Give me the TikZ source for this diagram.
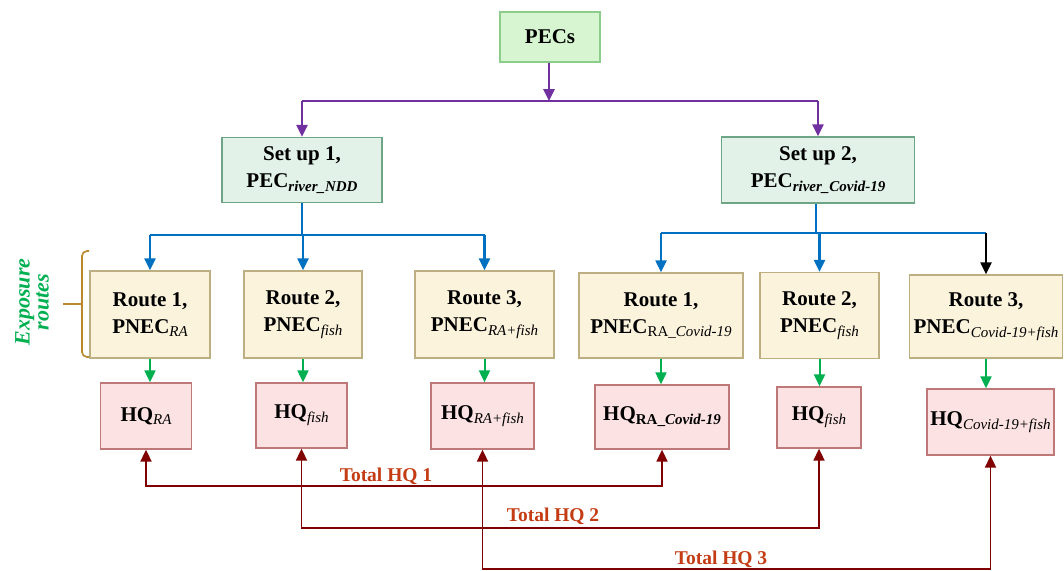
\documentclass[tikz,border=0pt]{standalone}
\usepackage{fontspec}
\setmainfont{Liberation Serif}
\usetikzlibrary{arrows.meta,calc}
\definecolor{pecfill}{RGB}{214,245,208}
\definecolor{pecdraw}{RGB}{140,205,140}
\definecolor{setfill}{RGB}{226,242,232}
\definecolor{setdraw}{RGB}{110,165,135}
\definecolor{routefill}{RGB}{251,243,220}
\definecolor{routedraw}{RGB}{190,175,130}
\definecolor{hqfill}{RGB}{252,226,226}
\definecolor{hqdraw}{RGB}{190,120,120}
\definecolor{cpurple}{RGB}{112,48,160}
\definecolor{cblue}{RGB}{0,112,192}
\definecolor{cgreen}{RGB}{0,176,80}
\definecolor{cdred}{RGB}{128,0,0}
\definecolor{clabel}{RGB}{196,60,20}
\definecolor{cbrace}{RGB}{185,135,45}
\newcommand\subit[1]{\raisebox{-0.4ex}{\fontsize{15}{15}\selectfont\normalfont\itshape #1}}
\newcommand\subbi[1]{\raisebox{-0.4ex}{\fontsize{15}{15}\selectfont\bfseries\itshape #1}}
\begin{document}
\begin{tikzpicture}[x=1pt,y=-1pt,
  box/.style={draw, line width=1.3pt, align=center, inner sep=2pt,
    font=\fontsize{21}{27}\selectfont\bfseries},
  pecbox/.style={box, fill=pecfill, draw=pecdraw},
  setbox/.style={box, fill=setfill, draw=setdraw},
  routebox/.style={box, fill=routefill, draw=routedraw},
  hqbox/.style={box, fill=hqfill, draw=hqdraw},
  tip/.style={-{Triangle[width=11pt,length=12pt]}},
  pline/.style={draw=cpurple, line width=2.6pt},
  bline/.style={draw=cblue, line width=2.2pt},
  gline/.style={draw=cgreen, line width=2pt},
  rline/.style={draw=cdred, line width=1.8pt},
  lab/.style={text=clabel, font=\fontsize{19.5}{22}\selectfont\bfseries}
]
\useasboundingbox (0,0) rectangle (1064,570);

% boxes
\node[pecbox, minimum width=100pt, minimum height=50pt] (pecs) at (550,37) {PECs};
\node[setbox, minimum width=160pt, minimum height=65pt] (s1) at (302,170) {Set up 1,\\PEC\subbi{river\_NDD}};
\node[setbox, minimum width=193pt, minimum height=66pt] (s2) at (818,170) {Set up 2,\\PEC\subbi{river\_Covid-19}};

\node[routebox, minimum width=120pt, minimum height=87pt] (r1) at (150,314.5) {Route 1,\\PNEC\subit{RA}};
\node[routebox, minimum width=118pt, minimum height=87pt] (r2) at (303,314.5) {Route 2,\\PNEC\subit{fish}};
\node[routebox, minimum width=139pt, minimum height=87pt] (r3) at (484.5,314.5) {Route 3,\\PNEC\subit{RA+fish}};
\node[routebox, minimum width=164pt, minimum height=85pt] (r4) at (661,315.5) {Route 1,\\PNEC\raisebox{-0.4ex}{\fontsize{15}{15}\selectfont\normalfont RA\_\itshape Covid-19}};
\node[routebox, minimum width=119pt, minimum height=86pt] (r5) at (819.5,315.5) {Route 2,\\PNEC\subit{fish}};
\node[routebox, minimum width=153pt, minimum height=83pt] (r6) at (986,316.5) {Route 3,\\PNEC\subit{Covid-19+fish}};

\node[hqbox, minimum width=91pt, minimum height=66pt] (h1) at (146,416) {HQ\subit{RA}};
\node[hqbox, minimum width=91pt, minimum height=65pt] (h2) at (301.5,415.5) {HQ\subit{fish}};
\node[hqbox, minimum width=103pt, minimum height=66pt] (h3) at (482.5,416) {HQ\subit{RA+fish}};
\node[hqbox, minimum width=134pt, minimum height=64pt] (h4) at (662,417) {HQ\raisebox{-0.4ex}{\fontsize{15}{15}\selectfont\bfseries RA\_\itshape Covid-19}};
\node[hqbox, minimum width=84pt, minimum height=61pt] (h5) at (819,417.5) {HQ\subit{fish}};
\node[hqbox, minimum width=127pt, minimum height=66pt] (h6) at (990.5,422) {HQ\subit{Covid-19+fish}};

% purple connectors
\coordinate (j0) at (549,101);
\draw[pline, tip] (pecs.south -| j0) -- (j0);
\draw[pline] (j0 -| s1.north) -- (j0 -| s2.north);
\draw[pline, tip] (j0 -| s1.north) -- (s1.north);
\draw[pline, tip] (j0 -| s2.north) -- (s2.north);

% blue connectors set up 1
\coordinate (j1) at (302,235);
\draw[bline] (s1.south) -- (j1);
\draw[bline] (j1 -| r1.north) -- (j1 -| r3.north);
\draw[bline, tip] (j1 -| r1.north) -- (r1.north);
\draw[bline, tip] (j1 -| r2.north) -- (r2.north);
\draw[bline, tip] (j1 -| r3.north) -- (r3.north);

% blue connectors set up 2
\coordinate (j2) at (816,233);
\draw[bline] (s2.south -| j2) -- (j2);
\draw[bline] (j2 -| r4.north) -- (j2 -| r6.north);
\draw[bline, tip] (j2 -| r4.north) -- (r4.north);
\draw[bline, tip] (j2 -| r5.north) -- (r5.north);
\draw[draw=black, line width=2.2pt, tip] (j2 -| r6.north) -- (r6.north);

% green connectors
\draw[gline, tip] (r1.south) -- (r1.south |- h1.north);
\draw[gline, tip] (r2.south) -- (r2.south |- h2.north);
\draw[gline, tip] (r3.south) -- (r3.south |- h3.north);
\draw[gline, tip] (r4.south) -- (r4.south |- h4.north);
\draw[gline, tip] (r5.south) -- (r5.south |- h5.north);
\draw[gline, tip] (r6.south) -- (r6.south |- h6.north);

% total HQ connectors
\coordinate (t1) at (0,486);
\coordinate (t2) at (0,528);
\coordinate (t3) at (0,569);
\draw[rline, {Triangle[width=11pt,length=12pt]}-{Triangle[width=11pt,length=12pt]}]
  (h1.south) -- (h1.south |- t1) -| (h4.south);
\draw[rline, {Triangle[width=11pt,length=12pt]}-{Triangle[width=11pt,length=12pt]}]
  (h2.south) -- (h2.south |- t2) -| (h5.south);
\draw[rline, {Triangle[width=11pt,length=12pt]}-{Triangle[width=11pt,length=12pt]}]
  (h3.south) -- (h3.south |- t3) -| (h6.south);

\node[lab] (l1) at (386,476) {Total HQ 1};
\node[lab] (l2) at (553,516) {Total HQ 2};
\node[lab] (l3) at (721,559) {Total HQ 3};

% brace and side label
\draw[cbrace, line width=1.6pt, rounded corners=5pt]
  (89,251) -- (82,251) -- (82,357) -- (89,357);
\draw[cbrace, line width=1.6pt] (82,304) -- (63,304);
\node[rotate=90, align=center, text=cgreen,
  font=\fontsize{22}{19}\selectfont\bfseries\itshape] (exp) at (32,302) {Exposure\\routes};
\end{tikzpicture}
\end{document}
